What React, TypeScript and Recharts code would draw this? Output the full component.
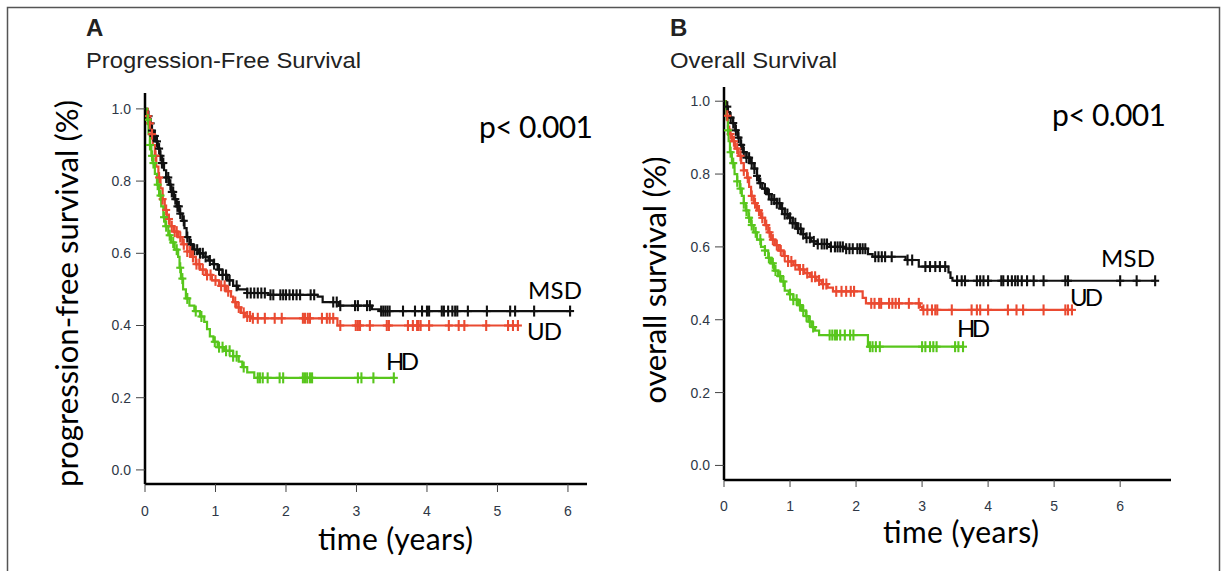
import React from 'react';
import { ComposedChart, Line, Scatter, XAxis, YAxis } from 'recharts';

// ─────────────────────────────────────────────────────────────────────────────
// Data (Kaplan–Meier steps as [time in years, survival], censor times)
// ─────────────────────────────────────────────────────────────────────────────

type Step = [number, number];

const xTicks = [0, 1, 2, 3, 4, 5, 6];
const yTicks = [0, 0.2, 0.4, 0.6, 0.8, 1.0];

// A: progression-free survival
const pfsMsd: Step[] = [
  [0, 1.0], [0.03, 0.98], [0.06, 0.96], [0.09, 0.94], [0.12, 0.925], [0.15, 0.91],
  [0.18, 0.89], [0.21, 0.87], [0.24, 0.85], [0.27, 0.83], [0.3, 0.81], [0.34, 0.79],
  [0.37, 0.77], [0.41, 0.75], [0.45, 0.73], [0.49, 0.71], [0.53, 0.69], [0.56, 0.67],
  [0.59, 0.645], [0.63, 0.625], [0.68, 0.61], [0.75, 0.6], [0.83, 0.59], [0.9, 0.58],
  [0.97, 0.57], [1.03, 0.555], [1.1, 0.54], [1.17, 0.525], [1.25, 0.51], [1.32, 0.5],
  [1.45, 0.49], [1.75, 0.485], [2.45, 0.48], [2.52, 0.465], [2.75, 0.455], [3.22, 0.445],
  [3.35, 0.44], [6.03, 0.44],
];
const pfsUd: Step[] = [
  [0, 1.0], [0.04, 0.98], [0.07, 0.96], [0.09, 0.93], [0.11, 0.9], [0.14, 0.87],
  [0.16, 0.84], [0.19, 0.81], [0.22, 0.78], [0.25, 0.75], [0.28, 0.72], [0.31, 0.695],
  [0.35, 0.675], [0.41, 0.66], [0.47, 0.645], [0.53, 0.625], [0.6, 0.605], [0.66, 0.59],
  [0.72, 0.57], [0.78, 0.555], [0.86, 0.54], [0.95, 0.525], [1.05, 0.51], [1.15, 0.495],
  [1.22, 0.48], [1.25, 0.465], [1.3, 0.45], [1.36, 0.435], [1.42, 0.425], [1.5, 0.42],
  [2.73, 0.4], [5.3, 0.4],
];
const pfsHd: Step[] = [
  [0, 1.0], [0.03, 0.97], [0.05, 0.93], [0.07, 0.9], [0.09, 0.87], [0.11, 0.85],
  [0.14, 0.82], [0.17, 0.79], [0.2, 0.76], [0.23, 0.73], [0.26, 0.7], [0.29, 0.675],
  [0.33, 0.65], [0.37, 0.63], [0.42, 0.61], [0.47, 0.59], [0.49, 0.56], [0.51, 0.53],
  [0.54, 0.5], [0.58, 0.475], [0.63, 0.455], [0.7, 0.44], [0.78, 0.425], [0.84, 0.41],
  [0.88, 0.39], [0.92, 0.37], [0.97, 0.355], [1.03, 0.34], [1.12, 0.33], [1.25, 0.315],
  [1.33, 0.3], [1.38, 0.285], [1.45, 0.27], [1.55, 0.255], [3.53, 0.255],
];
const pfsMsdCensor = [
  0.05, 0.08, 0.1, 0.12, 0.14, 0.17, 0.2, 0.22, 0.24, 0.26, 0.3, 0.33, 0.36, 0.38, 0.4,
  0.43, 0.46, 0.48, 0.5, 0.55, 0.6, 0.65, 0.7, 0.74, 0.78, 0.82, 0.86, 0.92, 0.98, 1.05,
  1.1, 1.15, 1.2, 1.3, 1.45, 1.5, 1.55, 1.6, 1.65, 1.7, 1.78, 1.82, 1.92, 1.96, 2.0, 2.05,
  2.1, 2.15, 2.2, 2.35, 2.4, 2.67, 2.72, 2.77, 2.98, 3.02, 3.15, 3.19, 3.35, 3.38, 3.41,
  3.44, 3.47, 3.66, 3.83, 3.93, 4.0, 4.03, 4.21, 4.24, 4.3, 4.36, 4.4, 4.43, 4.58, 4.85,
  5.18, 5.25, 5.52, 6.03,
];
const pfsUdCensor = [
  0.04, 0.07, 0.1, 0.15, 0.2, 0.25, 0.3, 0.34, 0.38, 0.42, 0.45, 0.5, 0.55, 0.6, 0.64,
  0.68, 0.73, 0.77, 0.82, 0.88, 0.93, 1.0, 1.08, 1.13, 1.18, 1.28, 1.33, 1.4, 1.45, 1.49,
  1.53, 1.6, 1.7, 1.84, 1.94, 2.24, 2.27, 2.31, 2.34, 2.51, 2.58, 2.62, 2.67, 2.77, 2.99,
  3.02, 3.05, 3.19, 3.43, 3.46, 3.73, 3.8, 3.86, 3.88, 3.91, 4.03, 4.31, 4.45, 4.53, 4.84,
  5.15, 5.22, 5.29,
];
const pfsHdCensor = [
  0.04, 0.07, 0.1, 0.12, 0.18, 0.22, 0.27, 0.3, 0.35, 0.4, 0.45, 0.5, 0.53, 0.6, 0.72,
  0.8, 0.99, 1.05, 1.1, 1.15, 1.2, 1.25, 1.3, 1.4, 1.6, 1.63, 1.67, 1.74, 1.91, 1.96,
  2.24, 2.27, 2.3, 2.34, 2.37, 3.02, 3.07, 3.24, 3.53,
];

// B: overall survival
const osMsd: Step[] = [
  [0, 1.0], [0.03, 0.985], [0.06, 0.97], [0.09, 0.955], [0.13, 0.94], [0.17, 0.92],
  [0.21, 0.9], [0.25, 0.88], [0.29, 0.86], [0.34, 0.845], [0.4, 0.83], [0.46, 0.815],
  [0.5, 0.795], [0.53, 0.775], [0.58, 0.76], [0.65, 0.745], [0.72, 0.73], [0.8, 0.72],
  [0.86, 0.705], [0.92, 0.69], [0.98, 0.68], [1.04, 0.665], [1.1, 0.65], [1.17, 0.635],
  [1.24, 0.625], [1.32, 0.615], [1.42, 0.608], [1.6, 0.6], [1.85, 0.595], [2.18, 0.58],
  [2.25, 0.573], [2.75, 0.564], [2.95, 0.546], [3.4, 0.53], [3.43, 0.515], [3.46, 0.507],
  [6.53, 0.507],
];
const osUd: Step[] = [
  [0, 1.0], [0.02, 0.99], [0.04, 0.96], [0.06, 0.93], [0.08, 0.91], [0.12, 0.89],
  [0.17, 0.87], [0.22, 0.85], [0.26, 0.83], [0.3, 0.81], [0.35, 0.79], [0.38, 0.765],
  [0.41, 0.74], [0.45, 0.72], [0.5, 0.7], [0.56, 0.68], [0.62, 0.66], [0.67, 0.64],
  [0.71, 0.62], [0.77, 0.605], [0.83, 0.59], [0.9, 0.575], [0.97, 0.56], [1.05, 0.55],
  [1.13, 0.538], [1.22, 0.528], [1.3, 0.518], [1.4, 0.508], [1.48, 0.498], [1.57, 0.488],
  [1.65, 0.478], [2.1, 0.46], [2.15, 0.445], [2.97, 0.435], [3.0, 0.427], [5.29, 0.427],
];
const osHd: Step[] = [
  [0, 1.0], [0.02, 0.98], [0.04, 0.95], [0.06, 0.92], [0.07, 0.89], [0.09, 0.86],
  [0.12, 0.83], [0.16, 0.8], [0.2, 0.78], [0.24, 0.76], [0.27, 0.74], [0.3, 0.72],
  [0.33, 0.7], [0.37, 0.68], [0.41, 0.66], [0.45, 0.64], [0.5, 0.62], [0.56, 0.6],
  [0.62, 0.59], [0.67, 0.57], [0.71, 0.555], [0.76, 0.535], [0.82, 0.52], [0.87, 0.505],
  [0.92, 0.48], [0.98, 0.47], [1.05, 0.455], [1.12, 0.44], [1.18, 0.425], [1.24, 0.41],
  [1.28, 0.395], [1.33, 0.38], [1.38, 0.37], [1.44, 0.358], [2.18, 0.326], [3.62, 0.326],
];
const osMsdCensor = [
  0.05, 0.1, 0.14, 0.18, 0.22, 0.26, 0.3, 0.34, 0.38, 0.42, 0.46, 0.5, 0.55, 0.62, 0.68,
  0.72, 0.76, 0.8, 0.84, 0.88, 0.92, 0.96, 1.0, 1.04, 1.08, 1.12, 1.16, 1.2, 1.25, 1.3,
  1.36, 1.42, 1.48, 1.52, 1.56, 1.62, 1.68, 1.72, 1.76, 1.8, 1.85, 1.9, 1.95, 2.02, 2.06,
  2.1, 2.14, 2.29, 2.34, 2.39, 2.44, 2.54, 2.78, 2.85, 3.05, 3.12, 3.2, 3.27, 3.35, 3.53,
  3.6, 3.65, 3.83, 3.88, 3.93, 4.0, 4.2, 4.23, 4.3, 4.36, 4.41, 4.45, 4.51, 4.59, 4.69,
  4.84, 5.17, 5.21, 6.0, 6.25, 6.53,
];
const osUdCensor = [
  0.05, 0.1, 0.15, 0.2, 0.25, 0.3, 0.36, 0.42, 0.47, 0.53, 0.58, 0.64, 0.69, 0.74, 0.8,
  0.86, 0.92, 0.97, 1.02, 1.08, 1.15, 1.2, 1.26, 1.33, 1.38, 1.44, 1.5, 1.55, 1.7, 1.78,
  1.85, 1.92, 1.97, 2.23, 2.28, 2.35, 2.38, 2.5, 2.55, 2.6, 2.65, 2.8, 2.95, 3.02, 3.08,
  3.15, 3.2, 3.23, 3.45, 3.75, 3.83, 3.88, 4.0, 4.3, 4.43, 4.53, 4.84, 5.17, 5.21, 5.27,
];
const osHdCensor = [
  0.06, 0.1, 0.14, 0.2, 0.25, 0.3, 0.34, 0.38, 0.42, 0.48, 0.55, 0.62, 0.68, 0.74, 0.78,
  0.85, 0.9, 1.0, 1.05, 1.1, 1.15, 1.2, 1.25, 1.3, 1.35, 1.6, 1.64, 1.68, 1.71, 1.76,
  1.83, 1.91, 1.96, 2.21, 2.25, 2.3, 2.36, 3.0, 3.05, 3.12, 3.17, 3.22, 3.5, 3.55, 3.62,
];

// ─────────────────────────────────────────────────────────────────────────────
// Helpers
// ─────────────────────────────────────────────────────────────────────────────

const BLACK = '#111111';
const RED = '#ea4a31';
const GREEN = '#58c61c';
const TICK_FONT = { fontFamily: '"Liberation Sans", Arial, sans-serif', fontSize: 14, fill: '#2e3746' };
const LABEL_FONT = 'Lato, "Open Sans", sans-serif';
const TITLE_FONT = '"Liberation Sans", Arial, sans-serif';

const toPoints = (steps: Step[]) => steps.map(([t, s]) => ({ t, s }));

// censored subjects sit on the curve: look up the step value at their time
const censorPoints = (steps: Step[], times: number[]) =>
  times.map((t) => {
    let s = steps[0][1];
    for (const [st, sv] of steps) if (st <= t) s = sv;
    return { t, s };
  });

const plusShape = (color: string) => (props: any) => {
  const { cx, cy } = props;
  if (cx == null || cy == null) return <g />;
  return (
    <g stroke={color} strokeWidth={2.1}>
      <line x1={cx} x2={cx} y1={cy - 5.5} y2={cy + 5.5} />
      <line x1={cx - 4} x2={cx + 4} y1={cy} y2={cy} />
    </g>
  );
};

interface Series {
  steps: Step[];
  censor: number[];
  color: string;
}

interface PanelProps {
  left: number;
  width: number;
  margin: { top: number; right: number; bottom: number; left: number };
  xMax: number;
  yDomain: [number, number];
  tickSizeX: number;
  series: Series[];
}

function KMPanel({ left, width, margin, xMax, yDomain, tickSizeX, series }: PanelProps) {
  return (
    <div style={{ position: 'absolute', left, top: 0 }}>
      <ComposedChart width={width} height={571} margin={margin}>
        <XAxis
          type="number"
          dataKey="t"
          domain={[0, xMax]}
          ticks={xTicks}
          interval={0}
          allowDataOverflow
          height={40}
          tickSize={tickSizeX}
          tickMargin={14}
          tick={TICK_FONT}
          axisLine={{ stroke: '#000', strokeWidth: 2.5 }}
          tickLine={{ stroke: '#444', strokeWidth: 1 }}
        />
        <YAxis
          type="number"
          dataKey="s"
          domain={yDomain}
          ticks={yTicks}
          interval={0}
          allowDataOverflow
          width={40}
          tickSize={9}
          tickMargin={5}
          tick={TICK_FONT}
          tickFormatter={(v: number) => v.toFixed(1)}
          axisLine={{ stroke: '#000', strokeWidth: 2.5 }}
          tickLine={{ stroke: '#444', strokeWidth: 1 }}
        />
        {series.map((s, i) => (
          <Line
            key={`l${i}`}
            data={toPoints(s.steps)}
            dataKey="s"
            type="stepAfter"
            stroke={s.color}
            strokeWidth={2.2}
            dot={false}
            activeDot={false}
            isAnimationActive={false}
          />
        ))}
        {series.map((s, i) => (
          <Scatter
            key={`c${i}`}
            data={censorPoints(s.steps, s.censor)}
            dataKey="s"
            shape={plusShape(s.color)}
            isAnimationActive={false}
          />
        ))}
      </ComposedChart>
    </div>
  );
}

export default function App() {
  return (
    <div
      style={{
        position: 'absolute',
        left: 0,
        top: 0,
        width: 1225,
        height: 571,
        background: '#fff',
        overflow: 'hidden',
      }}
    >
      <KMPanel
        left={0}
        width={620}
        margin={{ top: 93, right: 33, bottom: 47, left: 105 }}
        xMax={6.27}
        yDomain={[-0.039, 1.044]}
        tickSizeX={8}
        series={[
          { steps: pfsMsd, censor: pfsMsdCensor, color: BLACK },
          { steps: pfsUd, censor: pfsUdCensor, color: RED },
          { steps: pfsHd, censor: pfsHdCensor, color: GREEN },
        ]}
      />
      <KMPanel
        left={620}
        width={605}
        margin={{ top: 87, right: 54, bottom: 51, left: 64 }}
        xMax={6.77}
        yDomain={[-0.04, 1.039]}
        tickSizeX={7}
        series={[
          { steps: osMsd, censor: osMsdCensor, color: BLACK },
          { steps: osUd, censor: osUdCensor, color: RED },
          { steps: osHd, censor: osHdCensor, color: GREEN },
        ]}
      />

      {/* frame, titles and annotations */}
      <svg
        width={1225}
        height={571}
        style={{ position: 'absolute', left: 0, top: 0, pointerEvents: 'none' }}
      >
        <polyline points="7.5,571 7.5,7.5 1219.5,7.5 1219.5,571" fill="none" stroke="#555" strokeWidth={1.5} />

        <text x={86} y={36} fontFamily={TITLE_FONT} fontWeight="bold" fontSize={24} fill="#222">A</text>
        <text x={86} y={68} fontFamily={TITLE_FONT} fontSize={22} fill="#222" textLength={275} lengthAdjust="spacingAndGlyphs">
          Progression-Free Survival
        </text>
        <text x={670} y={36} fontFamily={TITLE_FONT} fontWeight="bold" fontSize={24} fill="#222">B</text>
        <text x={670} y={68} fontFamily={TITLE_FONT} fontSize={22} fill="#222" textLength={167} lengthAdjust="spacingAndGlyphs">
          Overall Survival
        </text>

        <g fontFamily={LABEL_FONT} fill="#000">
          <text transform="translate(78,293.5) rotate(-90)" textAnchor="middle" fontSize={31} textLength={387} lengthAdjust="spacing">
            progression-free survival (%)
          </text>
          <text transform="translate(666,280) rotate(-90)" textAnchor="middle" fontSize={31} textLength={247} lengthAdjust="spacing">
            overall survival (%)
          </text>
          <text x={395.5} y={550} textAnchor="middle" fontSize={30} textLength={155} lengthAdjust="spacing">time (years)</text>
          <text x={961} y={543} textAnchor="middle" fontSize={30} textLength={156} lengthAdjust="spacing">time (years)</text>

          <text x={479} y={138} fontSize={30} textLength={114} lengthAdjust="spacing">p&lt; 0.001</text>
          <text x={1052} y={126} fontSize={30} textLength={114} lengthAdjust="spacing">p&lt; 0.001</text>

          <text x={528} y={299} fontSize={24} textLength={54} lengthAdjust="spacing">MSD</text>
          <text x={527} y={340} fontSize={24} textLength={35} lengthAdjust="spacing">UD</text>
          <text x={386} y={370} fontSize={24} textLength={33} lengthAdjust="spacing">HD</text>
          <text x={1101} y={267} fontSize={24} textLength={54} lengthAdjust="spacing">MSD</text>
          <text x={1070} y={306} fontSize={24} textLength={33} lengthAdjust="spacing">UD</text>
          <text x={957} y={337} fontSize={24} textLength={33} lengthAdjust="spacing">HD</text>
        </g>
      </svg>
    </div>
  );
}
